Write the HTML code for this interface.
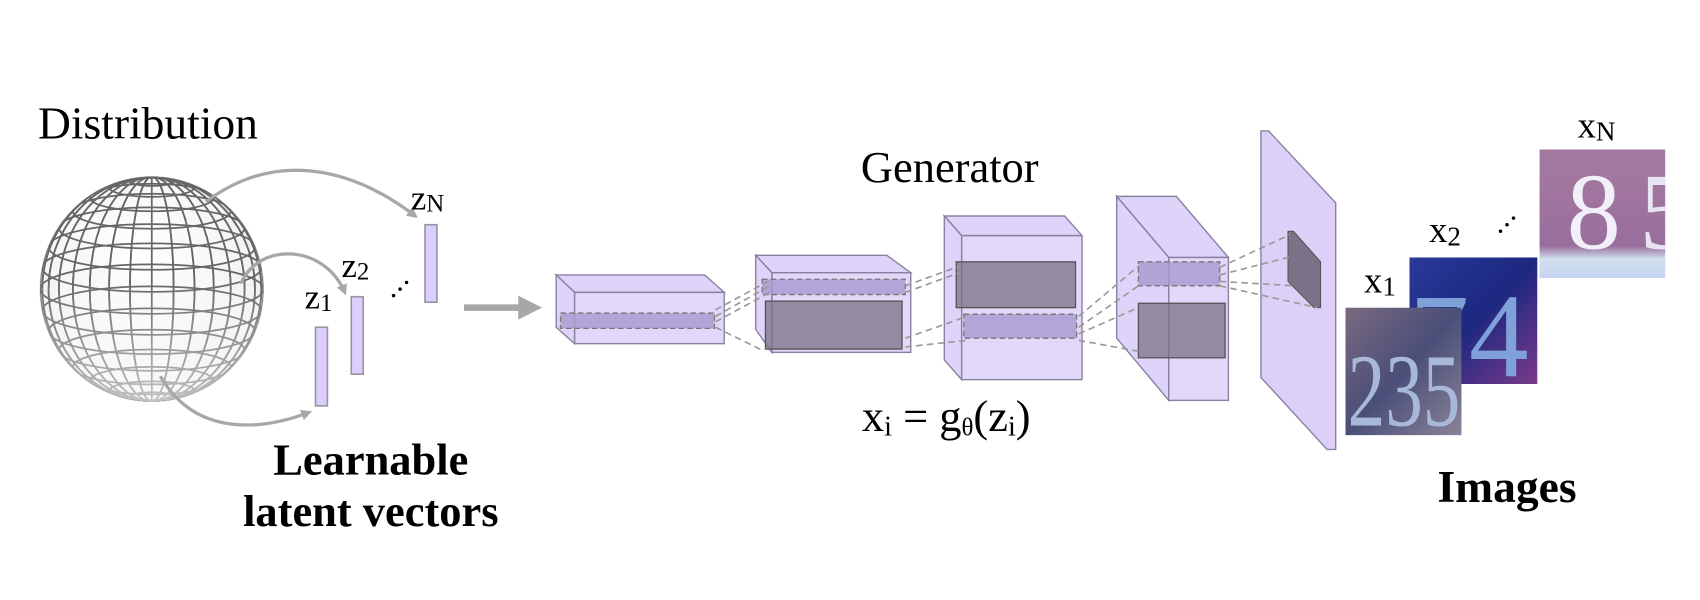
<!DOCTYPE html>
<html><head><meta charset="utf-8"><style>
html,body{margin:0;padding:0;background:#fff;width:1700px;height:600px;overflow:hidden}
svg{display:block}
text{font-family:"Liberation Serif",serif;fill:#000}
</style></head><body>
<svg width="1700" height="600" viewBox="0 0 1568 550" preserveAspectRatio="none">
<defs>
<marker id="ah" markerWidth="10" markerHeight="10" refX="7" refY="5" orient="auto" markerUnits="userSpaceOnUse"><path d="M0,0 L10,5 L0,10 Z" fill="#a5a8a6"/></marker>
<clipPath id="sph"><circle cx="140" cy="265" r="103"/></clipPath>
<clipPath id="c1"><rect x="1241" y="282" width="107" height="117"/></clipPath>
<clipPath id="c2"><rect x="1300" y="236" width="118" height="116"/></clipPath>
<clipPath id="c3"><rect x="1420" y="137" width="116" height="118"/></clipPath>
<radialGradient id="sg" cx="0.45" cy="0.35" r="0.7"><stop offset="0" stop-color="#fff"/><stop offset="1" stop-color="#eee"/></radialGradient>
<linearGradient id="fade" x1="0" y1="0" x2="0" y2="1"><stop offset="0.45" stop-color="#fff" stop-opacity="0"/><stop offset="1" stop-color="#fff" stop-opacity="0.6"/></linearGradient>
<linearGradient id="g1" x1="0" y1="0" x2="1" y2="1"><stop offset="0" stop-color="#7a6a80"/><stop offset="0.5" stop-color="#4a4e78"/><stop offset="1" stop-color="#8a8498"/></linearGradient>
<linearGradient id="g2" x1="0" y1="0" x2="1" y2="1"><stop offset="0" stop-color="#2a3a9a"/><stop offset="0.5" stop-color="#1c2880"/><stop offset="1" stop-color="#7a3a8a"/></linearGradient>
<linearGradient id="g3" x1="0" y1="0" x2="0" y2="1"><stop offset="0" stop-color="#a57aa0"/><stop offset="0.75" stop-color="#9a6e9c"/><stop offset="0.85" stop-color="#cfe0ee"/><stop offset="1" stop-color="#c8d4f0"/></linearGradient>
</defs>

<text x="35" y="127" font-size="42">Distribution</text>

<g>
<circle cx="140" cy="265" r="103" fill="url(#sg)" stroke="#ccc"/>
<g clip-path="url(#sph)" id="grid" stroke="#666" stroke-width="1.6" fill="none"></g>
<circle cx="140" cy="265" r="103" fill="url(#fade)"/>
</g>

<g fill="none" stroke="#a5a8a6" stroke-width="3">
<path d="M190,185 C250,140 320,150 383,198" marker-end="url(#ah)"/>
<path d="M222,260 C240,220 300,225 318,268" marker-end="url(#ah)"/>
<path d="M148,345 C180,400 240,395 285,378" marker-end="url(#ah)"/>
</g>

<g fill="#dccfff" stroke="#9a94a0" stroke-width="1.5">
<rect x="291" y="300" width="11" height="72"/>
<rect x="324" y="272" width="11" height="71"/>
<rect x="392" y="206" width="11" height="71"/>
</g>
<text x="281" y="283" font-size="32">z<tspan font-size="23" dy="2">1</tspan></text>
<text x="315" y="254" font-size="32">z<tspan font-size="23" dy="2">2</tspan></text>
<text x="379" y="192" font-size="32">z<tspan font-size="23" dy="2">N</tspan></text>
<g fill="#000"><circle cx="363" cy="271" r="1.6"/><circle cx="369" cy="265" r="1.6"/><circle cx="375" cy="259" r="1.6"/></g>

<g><line x1="428" y1="282" x2="480" y2="282" stroke="#a5a8a6" stroke-width="6"/><path d="M478,271 L500,282 L478,293 Z" fill="#a5a8a6"/></g>

<text x="876" y="167" font-size="41" text-anchor="middle">Generator</text>

<g id="net"></g>

<text x="795" y="395" font-size="41">x<tspan font-size="26" dy="4">i</tspan><tspan dy="-4"> = g</tspan><tspan font-size="23" dy="4">θ</tspan><tspan dy="-4">(z</tspan><tspan font-size="26" dy="4">i</tspan><tspan dy="-4">)</tspan></text>

<g>
<g clip-path="url(#c3)"><rect x="1420" y="137" width="116" height="118" fill="url(#g3)"/><text x="1445" y="228" font-size="100" style="fill:#f2eefa">8</text><text x="1512" y="228" font-size="100" style="fill:#e8e4f4">5</text></g>
<g clip-path="url(#c2)"><rect x="1300" y="236" width="118" height="116" fill="url(#g2)"/><text x="1300" y="345" font-size="110" style="fill:#7fa0d8">74</text></g>
<g clip-path="url(#c1)"><rect x="1241" y="282" width="107" height="117" fill="url(#g1)"/><text x="1243" y="390" font-size="95" style="fill:#a8b8d8" textLength="104" lengthAdjust="spacingAndGlyphs">235</text></g>
</g>
<text x="1258" y="268" font-size="34">x<tspan font-size="25" dy="3">1</tspan></text>
<text x="1318" y="222" font-size="34">x<tspan font-size="25" dy="3">2</tspan></text>
<text x="1455" y="126" font-size="34">x<tspan font-size="25" dy="3">N</tspan></text>
<g fill="#000"><circle cx="1384" cy="212" r="1.6"/><circle cx="1390" cy="206" r="1.6"/><circle cx="1396" cy="200" r="1.6"/></g>

<text x="342" y="435" font-size="41" font-weight="bold" text-anchor="middle">Learnable</text>
<text x="342" y="482" font-size="41" font-weight="bold" text-anchor="middle">latent vectors</text>
<text x="1390" y="460" font-size="42" font-weight="bold" text-anchor="middle">Images</text>
</svg>
<script>
const NS="http://www.w3.org/2000/svg";
function mk(t,a,p){const e=document.createElementNS(NS,t);for(const k in a)e.setAttribute(k,a[k]);p.appendChild(e);return e;}
const g=document.getElementById('grid');
const cx=140,cy=265,R=103;
for(let i=-7;i<=7;i++){const lat=i*Math.PI/16;const y=cy+R*Math.sin(lat)*0.98;const rx=R*Math.cos(lat);
mk('ellipse',{cx:cx,cy:y,rx:rx,ry:rx*0.22},g);}
for(let j=0;j<16;j++){const a=j*Math.PI/16;const rx=Math.abs(R*Math.cos(a));mk('ellipse',{cx:cx,cy:cy,rx:rx,ry:R},g);}
const net=document.getElementById('net');
const P="#d8cbf8",S="#8a82a0",D="#7a7286";
function box(b,f,name){const grp=mk('g',{},net);


const st={fill:P,'fill-opacity':0.85,stroke:S,'stroke-width':1.3};
mk('polygon',Object.assign({points:`${b[0]},${b[1]} ${b[2]},${b[1]} ${f[2]},${f[1]} ${f[0]},${f[1]}`},st),grp);
mk('polygon',Object.assign({points:`${b[0]},${b[1]} ${f[0]},${f[1]} ${f[0]},${f[3]} ${b[0]},${b[3]}`},st),grp);
mk('rect',Object.assign({x:f[0],y:f[1],width:f[2]-f[0],height:f[3]-f[1]},st,{'fill-opacity':0.75}),grp);
return grp;}
function dark(x,y,w,h,grp){mk('rect',{x:x,y:y,width:w,height:h,fill:D,'fill-opacity':0.75,stroke:'#555','stroke-width':1.2},grp);}
function stripe(x,y,w,h,grp){mk('rect',{x:x,y:y,width:w,height:h,fill:'#a898d0','fill-opacity':0.8,stroke:'#777','stroke-width':1.2,'stroke-dasharray':'5,3'},grp);}
function dash(x1,y1,x2,y2){mk('line',{x1:x1,y1:y1,x2:x2,y2:y2,stroke:'#999','stroke-width':1.5,'stroke-dasharray':'6,4'},net);}
let b1=box([513,252,650,300],[530,268,668,315],'layer-1');
stripe(517,287,142,14,b1);
let b2=box([697,234,818,302],[712,250,840,323],'layer-2');
stripe(703,256,132,14,b2);dark(706,276,126,44,b2);
let b3=box([871,198,982,330],[887,216,998,348],'layer-3');
dark(882,240,110,42,b3);stripe(889,288,104,22,b3);
let b4=box([1030,180,1085,310],[1078,236,1133,367],'layer-4');
stripe(1050,240,75,22,b4);dark(1050,278,80,50,b4);
const pl=mk('polygon',{points:"1163,120 1170,120 1232,186 1232,412 1224,412 1163,346",fill:P,'fill-opacity':0.9,stroke:S,'stroke-width':1.3},net);


mk('polygon',{points:"1188,212 1193,212 1218,240 1218,282 1212,282 1188,258",fill:D,stroke:'#555'},net);
[[660,290,710,262],[660,295,710,268],[660,300,705,322],[660,284,712,256],
 [835,262,885,244],[835,268,885,250],[835,310,892,290],[835,318,892,312],
 [995,290,1050,244],[995,300,1050,262],[995,306,1050,282],[995,312,1050,322],
 [1125,245,1190,215],[1125,252,1192,235],[1125,258,1195,262],[1125,262,1215,282]].forEach(d=>dash(...d));
</script>
</body></html>
